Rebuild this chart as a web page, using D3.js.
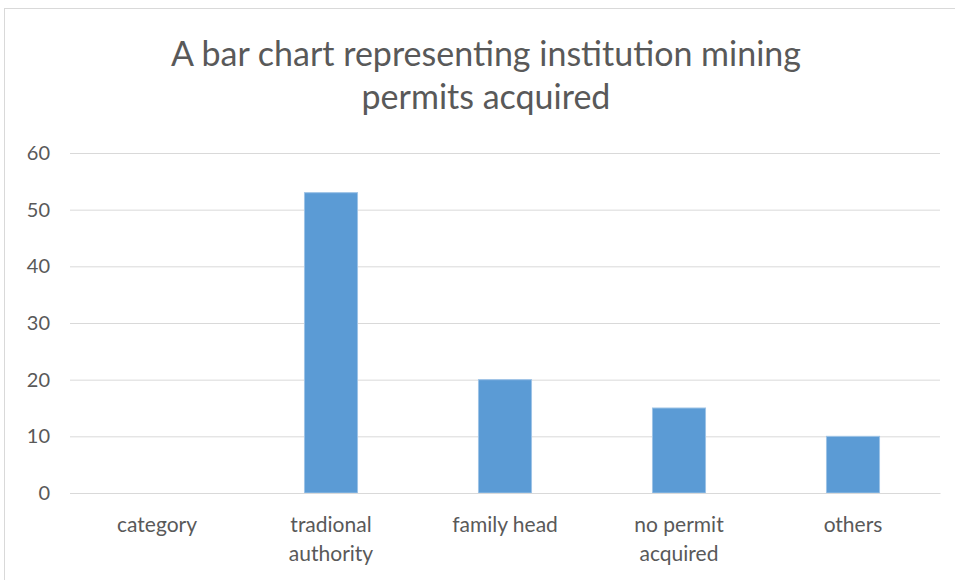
<!DOCTYPE html>
<html>
<head>
<meta charset="utf-8">
<script src="https://cdn.jsdelivr.net/npm/d3@7"></script>
<style>
  body { margin: 0; background: #fff; }
  text { font-family: Lato, "Open Sans", sans-serif; }
</style>
</head>
<body>
<div id="chart"></div>
<script>
const categories = ["category", "tradional authority", "family head", "no permit acquired", "others"];
const labelLines = [["category"], ["tradional", "authority"], ["family head"], ["no permit", "acquired"], ["others"]];
const values = [0, 53, 20, 15, 10];
const yTicks = [0, 10, 20, 30, 40, 50, 60];
const titleLines = ["A bar chart representing institution mining", "permits acquired"];

const W = 955, H = 580;
const margin = { top: 153, right: 15, bottom: 87, left: 70 };
const width = W - margin.left - margin.right;
const height = H - margin.top - margin.bottom;

const svg = d3.select("#chart").append("svg")
    .attr("width", W)
    .attr("height", H);

// outer chart frame
svg.append("rect")
    .attr("x", 4.5).attr("y", 8.5)
    .attr("width", W + 10).attr("height", H + 10)
    .attr("fill", "#fff")
    .attr("stroke", "#d9d9d9");

svg.append("text")
    .attr("x", 486)
    .attr("y", 66)
    .attr("text-anchor", "middle")
    .attr("fill", "#595959")
    .attr("font-size", 34)
    .selectAll("tspan")
    .data(titleLines)
    .join("tspan")
    .attr("x", 486)
    .attr("dy", (d, i) => i === 0 ? 0 : 43)
    .text((d) => d);

const g = svg.append("g")
    .attr("transform", `translate(${margin.left}, ${margin.top})`);

const x = d3.scaleBand()
    .domain(categories)
    .range([0, width])
    .paddingInner(0.695)
    .paddingOuter(0.3475);

const y = d3.scaleLinear()
    .domain([0, 60])
    .range([height, 0]);

// gridlines
g.append("g")
    .call(d3.axisLeft(y).tickValues(yTicks).tickSize(-width).tickFormat(""))
    .call((s) => s.select(".domain").remove())
    .selectAll("line")
    .attr("stroke", "#d9d9d9")
    .attr("stroke-width", 1);

// y labels
g.append("g")
    .call(d3.axisLeft(y).tickValues(yTicks).tickSize(0).tickPadding(20))
    .call((s) => s.select(".domain").remove())
    .selectAll("text")
    .attr("fill", "#595959")
    .attr("font-size", 20)
    .style("font-family", "Lato, sans-serif");

g.selectAll(".bar")
    .data(values)
    .join("rect")
    .attr("class", "bar")
    .attr("x", (d, i) => x(categories[i]))
    .attr("y", (d) => y(d))
    .attr("width", x.bandwidth())
    .attr("height", (d) => height - y(d))
    .attr("fill", "#5b9bd5")
    .attr("stroke", "#9dc3e6")
    .attr("stroke-width", 1);

// x labels
const xl = g.append("g")
    .attr("transform", `translate(0, ${height})`)
    .call(d3.axisBottom(x).tickSize(0).tickFormat(""))
    .call((s) => s.select(".domain").attr("stroke", "#d9d9d9"));

xl.selectAll(".xlab")
    .data(categories)
    .join("text")
    .attr("class", "xlab")
    .attr("x", (d) => x(d) + x.bandwidth() / 2)
    .attr("y", 39)
    .attr("text-anchor", "middle")
    .attr("fill", "#595959")
    .attr("font-size", 21)
    .selectAll("tspan")
    .data((d, i) => labelLines[i])
    .join("tspan")
    .attr("x", function () { return d3.select(this.parentNode).attr("x"); })
    .attr("dy", (d, i) => i === 0 ? 0 : 29)
    .text((d) => d);
</script>
</body>
</html>
